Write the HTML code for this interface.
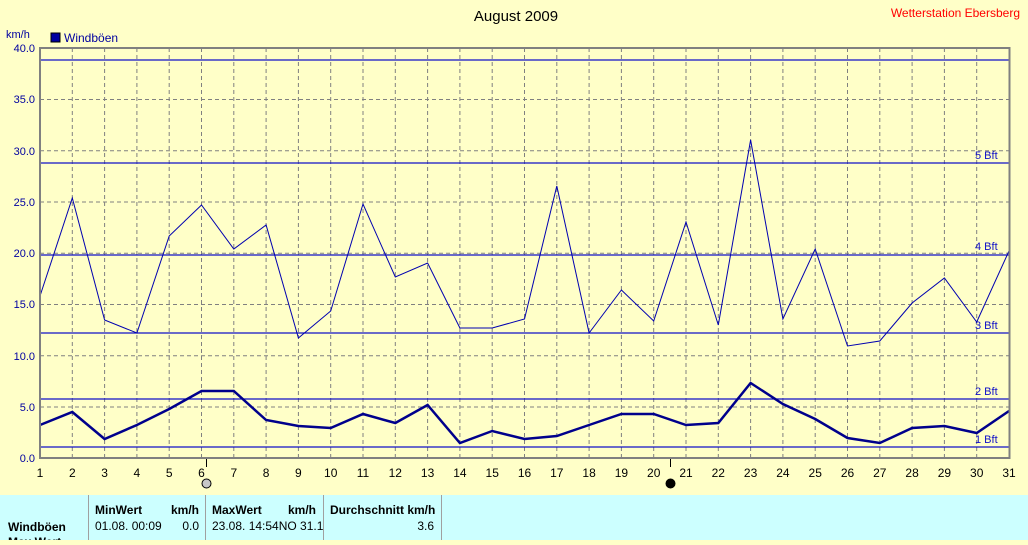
<!DOCTYPE html>
<html><head><meta charset="utf-8"><style>
body{margin:0;width:1028px;height:540px;overflow:hidden;background:#ffffc8;font-family:"Liberation Sans",sans-serif}
</style></head><body>
<svg width="1028" height="540" xmlns="http://www.w3.org/2000/svg" font-family="Liberation Sans, sans-serif">
<rect width="1028" height="540" fill="#ffffc8"/>
<text x="516" y="21" font-size="15" text-anchor="middle" fill="#000">August 2009</text>
<text x="1020" y="17" font-size="12" text-anchor="end" fill="#ff0000">Wetterstation Ebersberg</text>
<text x="6" y="38" font-size="11" fill="#0000a0">km/h</text>
<rect x="51" y="33" width="9" height="9" fill="#0000a0" stroke="#000" stroke-width="1"/>
<text x="64" y="42" font-size="12" fill="#0000a0">Windböen</text>
<g id="grid" stroke="#808080" stroke-dasharray="4,3" stroke-width="1">
<path d="M72.3 48V458M104.6 48V458M136.9 48V458M169.2 48V458M201.5 48V458M233.8 48V458M266.1 48V458M298.4 48V458M330.7 48V458M363 48V458M395.3 48V458M427.6 48V458M459.9 48V458M492.2 48V458M524.5 48V458M556.8 48V458M589.1 48V458M621.4 48V458M653.7 48V458M686 48V458M718.3 48V458M750.6 48V458M782.9 48V458M815.2 48V458M847.5 48V458M879.8 48V458M912.1 48V458M944.4 48V458M976.7 48V458"/>
<path d="M40 99.5H1009M40 150.8H1009M40 202H1009M40 253.3H1009M40 304.5H1009M40 355.8H1009M40 407H1009"/>
</g>
<g stroke="#1010c8" stroke-width="1.3">
<path d="M40 60H1009M40 163H1009M40 255H1009M40 333H1009M40 399H1009M40 447H1009"/>
</g>
<g font-size="11" fill="#1010c8">
<text x="975" y="159">5 Bft</text><text x="975" y="250">4 Bft</text><text x="975" y="329">3 Bft</text><text x="975" y="395">2 Bft</text><text x="975" y="443">1 Bft</text>
</g>
<polyline fill="none" stroke="#0000b0" stroke-width="1" points="40,296 72.3,198 104.6,320 136.9,333 169.2,236 201.5,205 233.8,249 266.1,225 298.4,338 330.7,311 363,204 395.3,277 427.6,263 459.9,328 492.2,328 524.5,319 556.8,186 589.1,333 621.4,290 653.7,321 686,222 718.3,325 750.6,140 782.9,319 815.2,249 847.5,346 879.8,341 912.1,303 944.4,278 976.7,322 1009,251"/>
<polyline fill="none" stroke="#00008c" stroke-width="2.5" points="40,425 72.3,412 104.6,439 136.9,425 169.2,409 201.5,391 233.8,391 266.1,420 298.4,426 330.7,428 363,414 395.3,423 427.6,405 459.9,443 492.2,431 524.5,439 556.8,436 589.1,425 621.4,414 653.7,414 686,425 718.3,423 750.6,383 782.9,404 815.2,419 847.5,438 879.8,443 912.1,428 944.4,426 976.7,433 1009,411"/>
<rect x="40" y="48" width="969.5" height="410" fill="none" stroke="#808080" stroke-width="2"/>
<g font-size="11" fill="#0000a0" text-anchor="end">
<text x="35" y="52">40.0</text><text x="35" y="103">35.0</text><text x="35" y="155">30.0</text><text x="35" y="206">25.0</text><text x="35" y="257">20.0</text><text x="35" y="308">15.0</text><text x="35" y="360">10.0</text><text x="35" y="411">5.0</text><text x="35" y="462">0.0</text>
</g>
<g stroke="#000" stroke-width="1"><path d="M206.5 459V467M670.5 459V467"/></g>
<g font-size="12" fill="#000" text-anchor="middle">
<text x="40" y="477">1</text><text x="72.3" y="477">2</text><text x="104.6" y="477">3</text><text x="136.9" y="477">4</text><text x="169.2" y="477">5</text><text x="201.5" y="477">6</text><text x="233.8" y="477">7</text><text x="266.1" y="477">8</text><text x="298.4" y="477">9</text><text x="330.7" y="477">10</text><text x="363" y="477">11</text><text x="395.3" y="477">12</text><text x="427.6" y="477">13</text><text x="459.9" y="477">14</text><text x="492.2" y="477">15</text><text x="524.5" y="477">16</text><text x="556.8" y="477">17</text><text x="589.1" y="477">18</text><text x="621.4" y="477">19</text><text x="653.7" y="477">20</text><text x="686" y="477">21</text><text x="718.3" y="477">22</text><text x="750.6" y="477">23</text><text x="782.9" y="477">24</text><text x="815.2" y="477">25</text><text x="847.5" y="477">26</text><text x="879.8" y="477">27</text><text x="912.1" y="477">28</text><text x="944.4" y="477">29</text><text x="976.7" y="477">30</text><text x="1009" y="477">31</text>
</g>
<circle cx="206.5" cy="483.5" r="4.5" fill="#c8c8c8" stroke="#000"/>
<circle cx="670.5" cy="483.5" r="4.5" fill="#000" stroke="#000"/>
<rect x="0" y="495" width="1028" height="45" fill="#ccffff"/>
<g stroke="#a0a0a0" stroke-width="1"><path d="M88.5 495V540M205.5 495V540M323.5 495V540M441.5 495V540"/></g>
<g font-size="12" font-weight="bold" fill="#000">
<text x="95" y="514">MinWert</text><text x="199" y="514" text-anchor="end">km/h</text>
<text x="212" y="514">MaxWert</text><text x="316" y="514" text-anchor="end">km/h</text>
<text x="330" y="514">Durchschnitt km/h</text>
<text x="8" y="531">Windböen</text>
<text x="8" y="546">Max.Wert</text>
</g>
<g font-size="12" fill="#000">
<text x="95" y="530">01.08.  00:09</text><text x="199" y="530" text-anchor="end">0.0</text>
<text x="212" y="530">23.08.  14:54NO 31.1</text>
<text x="434" y="530" text-anchor="end">3.6</text>
</g>
</svg>
</body></html>
